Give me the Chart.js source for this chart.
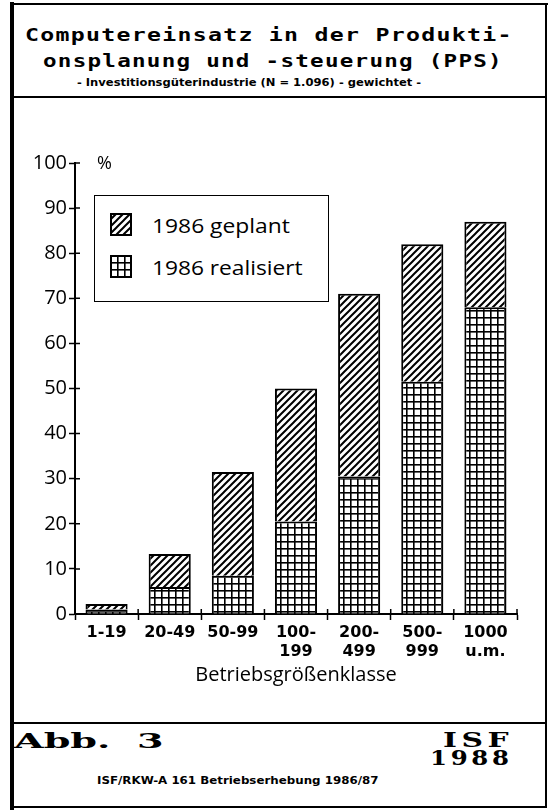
<!DOCTYPE html>
<html><head><meta charset="utf-8">
<script src="https://cdn.jsdelivr.net/npm/chart.js@4/dist/chart.umd.min.js"></script>
<style>
html,body{margin:0;padding:0;background:#fff;width:550px;height:810px;overflow:hidden;}
#wrap{position:relative;width:550px;height:810px;background:#fff;}
.t{position:absolute;white-space:pre;color:#000;transform-origin:0 50%;line-height:1;left:0;top:0;}
.ln{position:absolute;background:#000;}
#cv{position:absolute;left:0;top:100px;width:550px;height:620px;}
#legend{position:absolute;left:94px;top:195px;width:235px;height:107px;box-sizing:border-box;border:1.5px solid #000;background:#fff;}
.sw{position:absolute;}
</style></head><body>
<div id="wrap">
  <div class="ln" style="left:10px;top:2px;width:4px;height:808px"></div>
  <div class="ln" style="left:10px;top:3px;width:538px;height:1.5px"></div>
  <div class="ln" style="left:545px;top:3px;width:1.5px;height:805px"></div>
  <div class="ln" style="left:10px;top:96px;width:537px;height:2px"></div>
  <div class="ln" style="left:10px;top:722px;width:537px;height:2px"></div>
  <div class="ln" style="left:10px;top:806px;width:537px;height:2px"></div>

  <div class="t" id="t1" style="font:bold 18px 'DejaVu Sans Mono';letter-spacing:1px">Computereinsatz in der Produkti-</div>
  <div class="t" id="t2" style="font:bold 18px 'DejaVu Sans Mono';letter-spacing:1px">onsplanung und -steuerung (PPS)</div>
  <div class="t" id="t3" style="font:bold 11px 'DejaVu Sans'">- Investitionsgüterindustrie (N = 1.096) - gewichtet -</div>

  <canvas id="cv" width="550" height="620"></canvas>

  <div class="t" id="pct" style="font:18px 'Open Sans'">%</div>

  <div id="legend"></div>
  <canvas class="sw" id="sw1" width="22" height="23" style="left:110px;top:213px"></canvas>
  <canvas class="sw" id="sw2" width="22" height="23" style="left:110px;top:255px"></canvas>
  <div class="t" id="l1" style="font:20px 'Open Sans'">1986 geplant</div>
  <div class="t" id="l2" style="font:20px 'Open Sans'">1986 realisiert</div>

  <div class="t" id="f1" style="font:bold 20px 'DejaVu Serif'">Abb.  3</div>
  <div class="t" id="f2" style="font:bold 20px 'DejaVu Serif';letter-spacing:3px">ISF</div>
  <div class="t" id="f3" style="font:bold 20px 'DejaVu Serif';letter-spacing:3px">1988</div>
  <div class="t" id="f4" style="font:bold 11px 'DejaVu Sans'">ISF/RKW-A 161 Betriebserhebung 1986/87</div>
</div>
<script>
// ---- data ----
const categories = ['1-19', '20-49', '50-99', '100-|199', '200-|499', '500-|999', '1000|u.m.'];
const realisiert = [1, 6, 8.5, 20.5, 30.5, 51.5, 68];
const geplant = [2.2, 13.3, 31.5, 50, 71, 82, 87];
const seriesNames = ['1986 geplant', '1986 realisiert'];
const yMin = 0, yMax = 100, yStep = 10;
const xTitle = 'Betriebsgrößenklasse';

// ---- patterns ----
function hatchCanvas() {
  const s = 7, c = document.createElement('canvas'); c.width = c.height = s;
  const g = c.getContext('2d');
  g.fillStyle = '#fff'; g.fillRect(0, 0, s, s);
  g.strokeStyle = '#000'; g.lineWidth = 2;
  g.beginPath();
  g.moveTo(-1, s + 1); g.lineTo(s + 1, -1);
  g.moveTo(-s / 2 - 1, s / 2 + 1); g.lineTo(s / 2 + 1, -s / 2 - 1);
  g.moveTo(s / 2 - 1, s * 1.5 + 1); g.lineTo(s * 1.5 + 1, s / 2 - 1);
  g.stroke();
  return c;
}
function gridCanvas() {
  const s = 7, c = document.createElement('canvas'); c.width = c.height = s;
  const g = c.getContext('2d');
  g.fillStyle = '#fff'; g.fillRect(0, 0, s, s);
  g.fillStyle = '#000';
  g.fillRect(0, 0, 1.6, s); g.fillRect(0, 0, s, 1.6);
  return c;
}
const cv = document.getElementById('cv');
const ctx = cv.getContext('2d');
const hatchPat = ctx.createPattern(hatchCanvas(), 'repeat');
const gridPat = ctx.createPattern(gridCanvas(), 'repeat');

function swatch(id, pat) {
  const c = document.getElementById(id), g = c.getContext('2d');
  g.fillStyle = g.createPattern(pat === 'h' ? hatchCanvas() : gridCanvas(), 'repeat');
  g.fillRect(0, 0, c.width, c.height);
  g.strokeStyle = '#000'; g.lineWidth = 2; g.strokeRect(1, 1, c.width - 2, c.height - 2);
}
swatch('sw1', 'h'); swatch('sw2', 'g');

// inward halves of the axis tick marks (ticks cross the axis lines)
const crossTicks = {
  id: 'crossTicks',
  afterDraw(chart) {
    const c = chart.ctx, xs = chart.scales.x, ys = chart.scales.y, len = 5;
    c.save(); c.strokeStyle = '#000'; c.lineWidth = 1.5; c.beginPath();
    for (let i = 0; i <= xs.ticks.length; i++) {
      const px = i < xs.ticks.length ? xs.getPixelForTick(i) - (xs.getPixelForTick(1) - xs.getPixelForTick(0)) / 2
                                     : xs.right;
      if (i === 0) continue;
      c.moveTo(px, xs.top); c.lineTo(px, xs.top - len);
    }
    ys.ticks.forEach((t, i) => {
      if (i === 0) return;
      const py = ys.getPixelForTick(i);
      c.moveTo(ys.right, py); c.lineTo(ys.right + len, py);
    });
    c.stroke(); c.restore();
  }
};

// ---- chart ----
const plannedPart = geplant.map((v, i) => Math.max(0, v - realisiert[i]));
new Chart(cv, {
  type: 'bar',
  data: {
    labels: categories.map(c => c.split('|')),
    datasets: [
      { label: seriesNames[1], data: realisiert, backgroundColor: gridPat, borderColor: '#000', borderWidth: 2, stack: 's' },
      { label: seriesNames[0], data: plannedPart, backgroundColor: hatchPat, borderColor: '#000', borderWidth: 2, stack: 's' }
    ]
  },
  plugins: [crossTicks],
  options: {
    responsive: false, maintainAspectRatio: false, animation: false,
    layout: { padding: { top: 63, right: 33, bottom: 0, left: 0 } },
    plugins: { legend: { display: false }, tooltip: { enabled: false } },
    datasets: { bar: { categoryPercentage: 0.667, barPercentage: 1 } },
    scales: {
      x: {
        stacked: true,
        afterFit: s => { s.height = 106; },
        grid: { drawOnChartArea: false, drawTicks: true, tickLength: 6, tickColor: '#000', tickWidth: 1.5, offset: true },
        border: { display: true, color: '#000', width: 2 },
        ticks: { color: '#000', padding: 3, maxRotation: 0, autoSkip: false, font: { family: 'DejaVu Sans', size: 16, weight: 'bold', lineHeight: 1.2 } },
        title: { display: true, text: xTitle, color: '#000', font: { family: 'Open Sans', size: 20, lineHeight: 1.2 }, padding: { top: 0, bottom: 33 } }
      },
      y: {
        stacked: true, min: yMin, max: yMax,
        afterFit: s => { s.width = 75; },
        grid: { drawOnChartArea: false, drawTicks: true, tickLength: 6, tickColor: '#000', tickWidth: 1.5 },
        border: { display: true, color: '#000', width: 2 },
        ticks: { stepSize: yStep, color: '#000', padding: 2, font: { family: 'Open Sans', size: 20 } }
      }
    }
  }
});

// ---- text placement ----
function place(id, x, yc, w, align) {
  const el = document.getElementById(id);
  const ow = el.offsetWidth, h = el.offsetHeight;
  if (w) el.style.transform = 'scaleX(' + (w / ow) + ')';
  const ww = w || ow;
  el.style.left = (align === 'right' ? x - ww : x) + 'px';
  el.style.top = (yc - h / 2) + 'px';
}
place('t1', 25, 34, 488);
place('t2', 43, 60, 460);
place('t3', 77, 82, 344);
place('pct', 97, 162);
place('l1', 152, 225, 138);
place('l2', 152, 267, 151);
place('f1', 14, 741, 149);
place('f2', 513, 740, 70, 'right');
place('f3', 513, 758, 83, 'right');
place('f4', 97, 780, 281);
</script>
</body></html>
